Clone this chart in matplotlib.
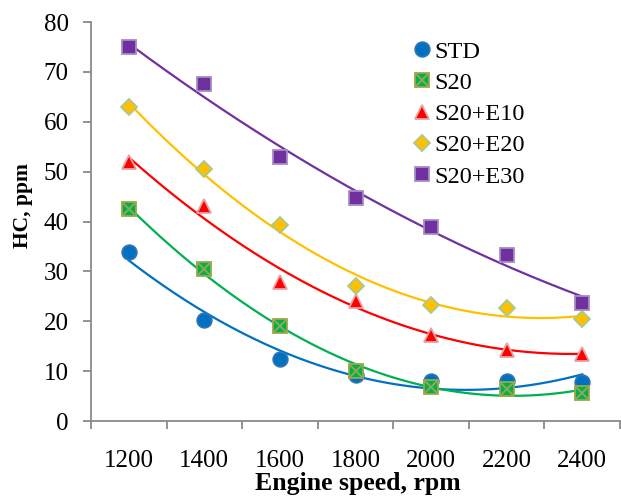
import matplotlib.pyplot as plt
import numpy as np

speed = [1200, 1400, 1600, 1800, 2000, 2200, 2400]

hc_std = [33.8, 20.2, 12.5, 9.3, 8.0, 8.0, 7.9]
hc_s20 = [42.5, 30.5, 19.0, 10.0, 6.8, 6.5, 5.6]
hc_e10 = [52.0, 43.2, 27.8, 24.0, 17.2, 14.3, 13.5]
hc_e20 = [63.0, 50.5, 39.3, 27.0, 23.2, 22.7, 20.5]
hc_e30 = [75.0, 67.5, 53.0, 44.8, 38.8, 33.2, 23.7]

names = ['STD', 'S20', 'S20+E10', 'S20+E20', 'S20+E30']
values = [hc_std, hc_s20, hc_e10, hc_e20, hc_e30]
line_colors = ['#0070C0', '#00B050', '#FF0000', '#FFC000', '#7030A0']
markers = ['o', 's', '^', 'D', 's']
edge_colors = ['#2E75B6', '#9BA84A', '#E6A3A3', '#A9C98E', '#A58DC4']
msizes = [10.5, 10, 10.5, 8, 10]

plt.rcParams['font.family'] = ['Liberation Serif', 'DejaVu Serif']

fig = plt.figure(figsize=(6.21, 4.98), dpi=100)
ax = fig.add_axes([0.1465, 0.1546, 0.852, 0.8012])

x = np.array(speed, dtype=float)
xi = np.arange(1, len(x) + 1)
xs = np.linspace(1, len(x), 200)
xs_speed = np.interp(xs, xi, x)

for name, y, lc, mk, ec, ms in zip(names, values, line_colors, markers, edge_colors, msizes):
    # Excel-style 2nd order polynomial trendline
    coef = np.polyfit(xi, y, 2)
    ax.plot(xs_speed, np.polyval(coef, xs), color=lc, lw=1.6, zorder=2)
    ax.plot(x, y, linestyle='none', marker=mk, markersize=ms, markerfacecolor=lc,
            markeredgecolor=ec, markeredgewidth=1.3, zorder=3, label=name)
    if name == 'S20':
        ax.plot(x, y, linestyle='none', marker='x', markersize=ms - 1,
                markeredgecolor='#9BA84A', markeredgewidth=1.3, zorder=4)

ax.set_xlim(1100, 2500)
ax.set_ylim(0, 80)
ax.set_xticks(np.arange(1100, 2501, 200))
ax.set_xticklabels([])
ax.set_xticks(speed, minor=True)
ax.set_xticklabels([str(s) for s in speed], minor=True)
ax.tick_params(axis='x', which='major', length=6, width=1.3, color='#898989')
ax.tick_params(axis='x', which='minor', length=0, pad=21, labelsize=18)
ax.set_yticks(range(0, 81, 10))
ax.tick_params(axis='y', length=6, width=1.3, color='#898989', labelsize=18, pad=10)

for s in ['top', 'right']:
    ax.spines[s].set_visible(False)
for s in ['left', 'bottom']:
    ax.spines[s].set_color('#898989')
    ax.spines[s].set_linewidth(1.3)

ax.set_ylabel('HC, ppm', fontsize=15.5, fontweight='bold')
ax.yaxis.set_label_coords(-0.11, 0.54)
ax.set_xlabel('Engine speed, rpm', fontsize=18.5, fontweight='bold')
ax.xaxis.set_label_coords(0.505, -0.128)

handles, labels = ax.get_legend_handles_labels()
s20_x = plt.Line2D([], [], linestyle='none', marker='x', markersize=9,
                   markeredgecolor='#9BA84A', markeredgewidth=1.3)
handles[1] = (handles[1], s20_x)
ax.legend(handles, labels, loc='upper left', bbox_to_anchor=(0.585, 0.978), frameon=False,
          fontsize=17.5, handletextpad=0.0, handlelength=1.0, labelspacing=0.38,
          borderaxespad=0)

fig.savefig('out.png', dpi=100)
